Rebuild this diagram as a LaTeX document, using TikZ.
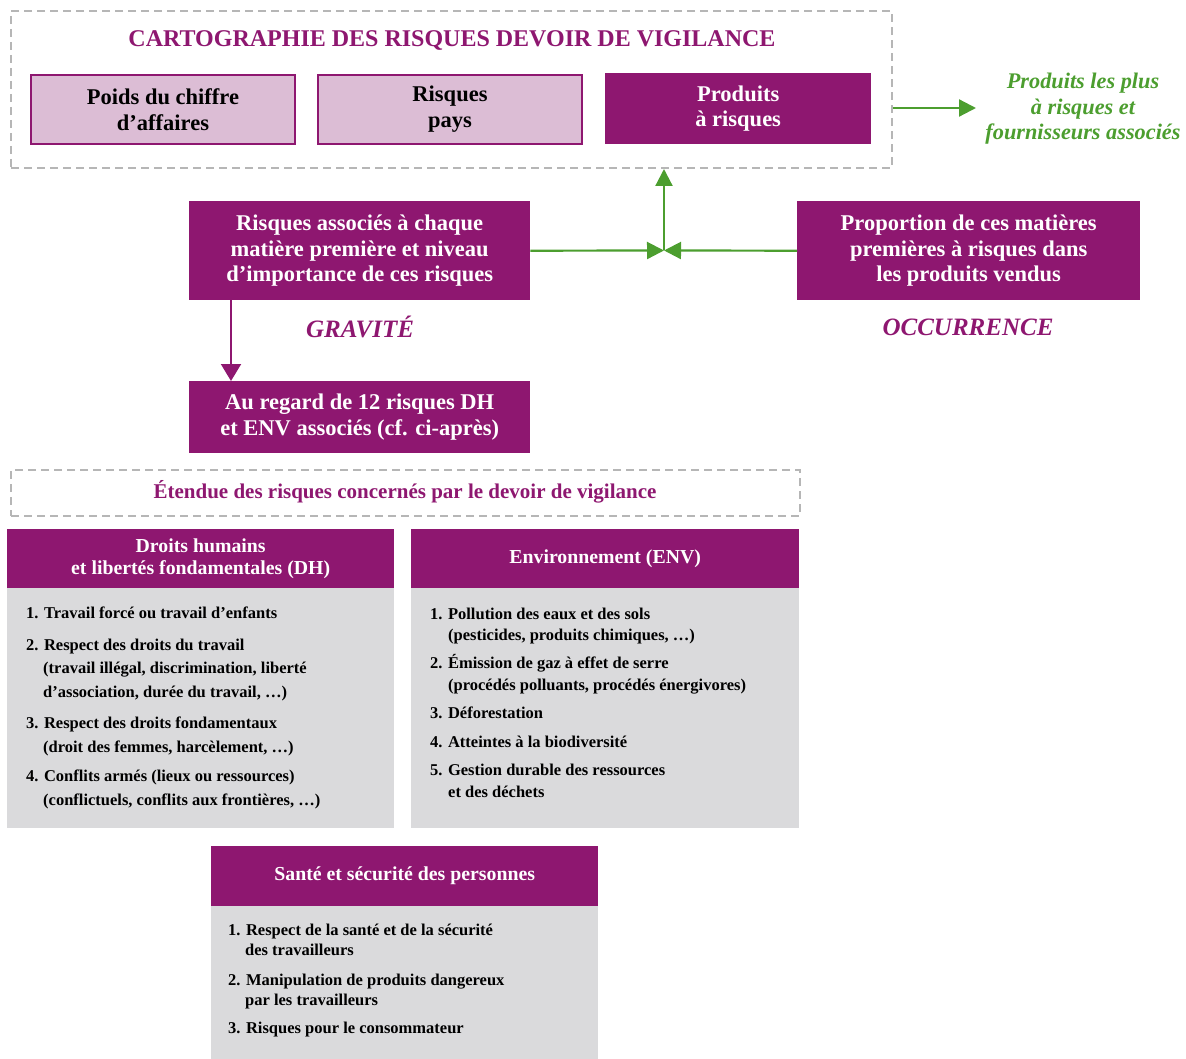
\documentclass[tikz,border=0pt]{standalone}
\usepackage{fontspec}
\setmainfont{Liberation Serif}
\usetikzlibrary{arrows.meta}
\definecolor{vpurple}{RGB}{142,23,112}
\definecolor{vpink}{RGB}{220,189,213}
\definecolor{vgrey}{RGB}{218,218,220}
\definecolor{vgreen}{RGB}{76,158,47}
\definecolor{vdash}{RGB}{182,182,182}
\begin{document}
\begin{tikzpicture}[x=1pt,y=-1pt,
  dashbox/.style={draw=vdash, line width=2pt, dash pattern=on 8pt off 5pt, inner sep=0, anchor=north west},
  pinkbox/.style={draw=vpurple, line width=2pt, fill=vpink, text=black, font=\bfseries\fontsize{22.5}{26}\selectfont, align=center, inner sep=0, anchor=north west},
  purplebox/.style={fill=vpurple, text=white, font=\bfseries\fontsize{22.5}{25.5}\selectfont, align=center, inner sep=0, anchor=north west},
  headbox/.style={fill=vpurple, text=white, font=\bfseries\fontsize{19.8}{22}\selectfont, align=center, inner sep=0, anchor=north west},
  bodybox/.style={fill=vgrey, inner sep=0, anchor=north west},
  item/.style={font=\bfseries\fontsize{16.5}{18}\selectfont, text=black, inner sep=0, anchor=base west},
  greenarrow/.style={draw=vgreen, line width=2.2pt, -{Triangle[length=17pt,width=17pt]}},
  purplearrow/.style={draw=vpurple, line width=2pt, -{Triangle[length=17pt,width=20pt]}},
  label/.style={text=vpurple, font=\bfseries\itshape\fontsize{25}{28}\selectfont, inner sep=0}
]
\useasboundingbox (0,0) rectangle (1186,1059);

% top dashed box
\node[dashbox, minimum width=881, minimum height=157] (carto) at (10,10) {};
\node[text=vpurple, font=\bfseries\fontsize{24}{28}\selectfont, inner sep=0] (title) at (452,41) {CARTOGRAPHIE DES RISQUES DEVOIR DE VIGILANCE};
\node[pinkbox, minimum width=264, minimum height=69] (poids) at (30,74) {Poids du chiffre\\d’affaires};
\node[pinkbox, minimum width=264, minimum height=69] (pays) at (317,74) {Risques\\pays};
\node[purplebox, minimum width=266, minimum height=71] (prod) at (605,73) {Produits\\à risques};

\node[text=vgreen, font=\bfseries\itshape\fontsize{22.3}{25.5}\selectfont, align=center, inner sep=0] (out) at (1083,109) {Produits les plus\\à risques et\\fournisseurs associés};
\coordinate (outstart) at (893,108);
\coordinate (outend) at (976,108);
\draw[greenarrow] (outstart) -- (outend);

% middle boxes
\node[purplebox, minimum width=341, minimum height=99] (grav) at (189,201) {Risques associés à chaque\\matière première et niveau\\d’importance de ces risques};
\node[purplebox, minimum width=343, minimum height=99] (occ) at (797,201) {Proportion de ces matières\\premières à risques dans\\les produits vendus};
\coordinate (j) at (664,250.5);
\draw[greenarrow] (grav.east) -- (j);
\draw[greenarrow] (occ.west) -- (j);
\draw[greenarrow] (j) -- (carto.south -| j);

\node[label] (gravlab) at (360,327) {GRAVITÉ};
\node[label] (occlab) at (968,327) {OCCURRENCE};

\node[purplebox, minimum width=341, minimum height=72] (regard) at (189,381) {Au regard de 12 risques DH\\et ENV associés (cf. ci-après)};
\draw[purplearrow] (grav.south -| 231,0) -- (regard.north -| 231,0);

% scope box
\node[dashbox, minimum width=789, minimum height=46] (etendue) at (10,469) {};
\node[text=vpurple, font=\bfseries\fontsize{21}{24}\selectfont, inner sep=0] (etxt) at (405,492) {Étendue des risques concernés par le devoir de vigilance};

% DH panel
\node[headbox, minimum width=387, minimum height=60] (dhh) at (7,529) {Droits humains\\et libertés fondamentales (DH)};
\node[bodybox, minimum width=387, minimum height=240] (dhb) at (7,588) {};
\node[item] (dh1) at (26,618) {1. Travail forcé ou travail d’enfants};
\node[item] (dh2) at (26,650) {2. Respect des droits du travail};
\node[item] (dh2b) at (43,673) {(travail illégal, discrimination, liberté};
\node[item] (dh2c) at (43,697) {d’association, durée du travail, …)};
\node[item] (dh3) at (26,728) {3. Respect des droits fondamentaux};
\node[item] (dh3b) at (43,752) {(droit des femmes, harcèlement, …)};
\node[item] (dh4) at (26,781) {4. Conflits armés (lieux ou ressources)};
\node[item] (dh4b) at (43,805) {(conflictuels, conflits aux frontières, …)};

% ENV panel
\node[headbox, minimum width=388, minimum height=60] (envh) at (411,529) {Environnement (ENV)};
\node[bodybox, minimum width=388, minimum height=240] (envb) at (411,588) {};
\node[item] (env1) at (430,619) {1. Pollution des eaux et des sols};
\node[item] (env1b) at (448,640) {(pesticides, produits chimiques, …)};
\node[item] (env2) at (430,668) {2. Émission de gaz à effet de serre};
\node[item] (env2b) at (448,690) {(procédés polluants, procédés énergivores)};
\node[item] (env3) at (430,718) {3. Déforestation};
\node[item] (env4) at (430,747) {4. Atteintes à la biodiversité};
\node[item] (env5) at (430,775) {5. Gestion durable des ressources};
\node[item] (env5b) at (448,797) {et des déchets};

% Sante panel
\node[headbox, minimum width=387, minimum height=60] (sanh) at (211,846) {Santé et sécurité des personnes};
\node[bodybox, minimum width=387, minimum height=153] (sanb) at (211,906) {};
\node[item] (san1) at (228,935) {1. Respect de la santé et de la sécurité};
\node[item] (san1b) at (245,955) {des travailleurs};
\node[item] (san2) at (228,985) {2. Manipulation de produits dangereux};
\node[item] (san2b) at (245,1005) {par les travailleurs};
\node[item] (san3) at (228,1033) {3. Risques pour le consommateur};
\end{tikzpicture}
\end{document}
